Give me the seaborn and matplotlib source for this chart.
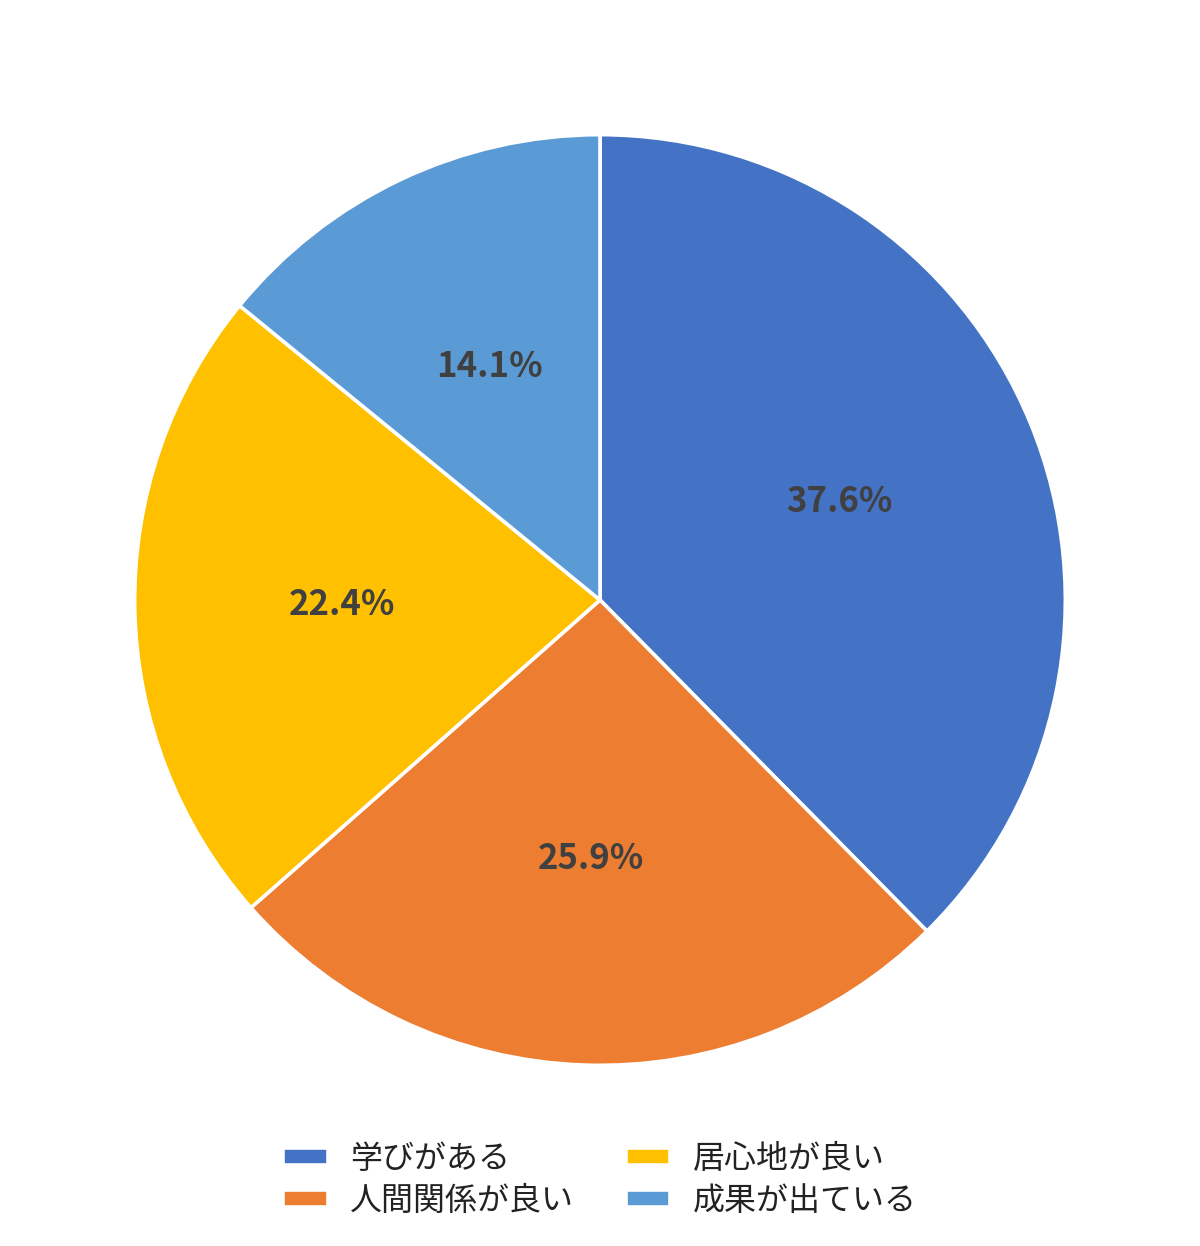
import matplotlib
matplotlib.use('Agg')
import matplotlib.pyplot as plt
import seaborn as sns

# data
labels = ['学びがある', '人間関係が良い', '居心地が良い', '成果が出ている']
shares = [37.6, 25.9, 22.4, 14.1]
colors = ['#4472C4', '#ED7D31', '#FFC000', '#5B9BD5']

sns.set_theme(style='white')
plt.rcParams['font.family'] = ['Noto Sans CJK JP', 'DejaVu Sans']

fig = plt.figure(figsize=(12, 12.46), dpi=100)
ax = fig.add_axes([137 / 1200, (1246 - 1063) / 1246, 926 / 1200, 926 / 1246])

wedges, texts, autotexts = ax.pie(
    shares, colors=sns.color_palette(colors), startangle=90, counterclock=False,
    autopct='%.1f%%', pctdistance=0.555, radius=1,
    wedgeprops=dict(edgecolor='white', linewidth=2.6),
    textprops=dict(fontsize=25, fontweight='bold', color='#404040'))
ax.set_xlim(-0.995, 0.995)
ax.set_ylim(-0.995, 0.995)
ax.set_aspect('equal')

fig.legend(wedges, labels, loc='center', bbox_to_anchor=(0.5, 1 - 1180 / 1246),
           ncol=2, frameon=False, fontsize=23, handlelength=1.4, handleheight=0.45,
           handletextpad=0.7, columnspacing=1.6, labelspacing=0.3, labelcolor='#222222')

fig.savefig('out.png', dpi=100, facecolor='white')
